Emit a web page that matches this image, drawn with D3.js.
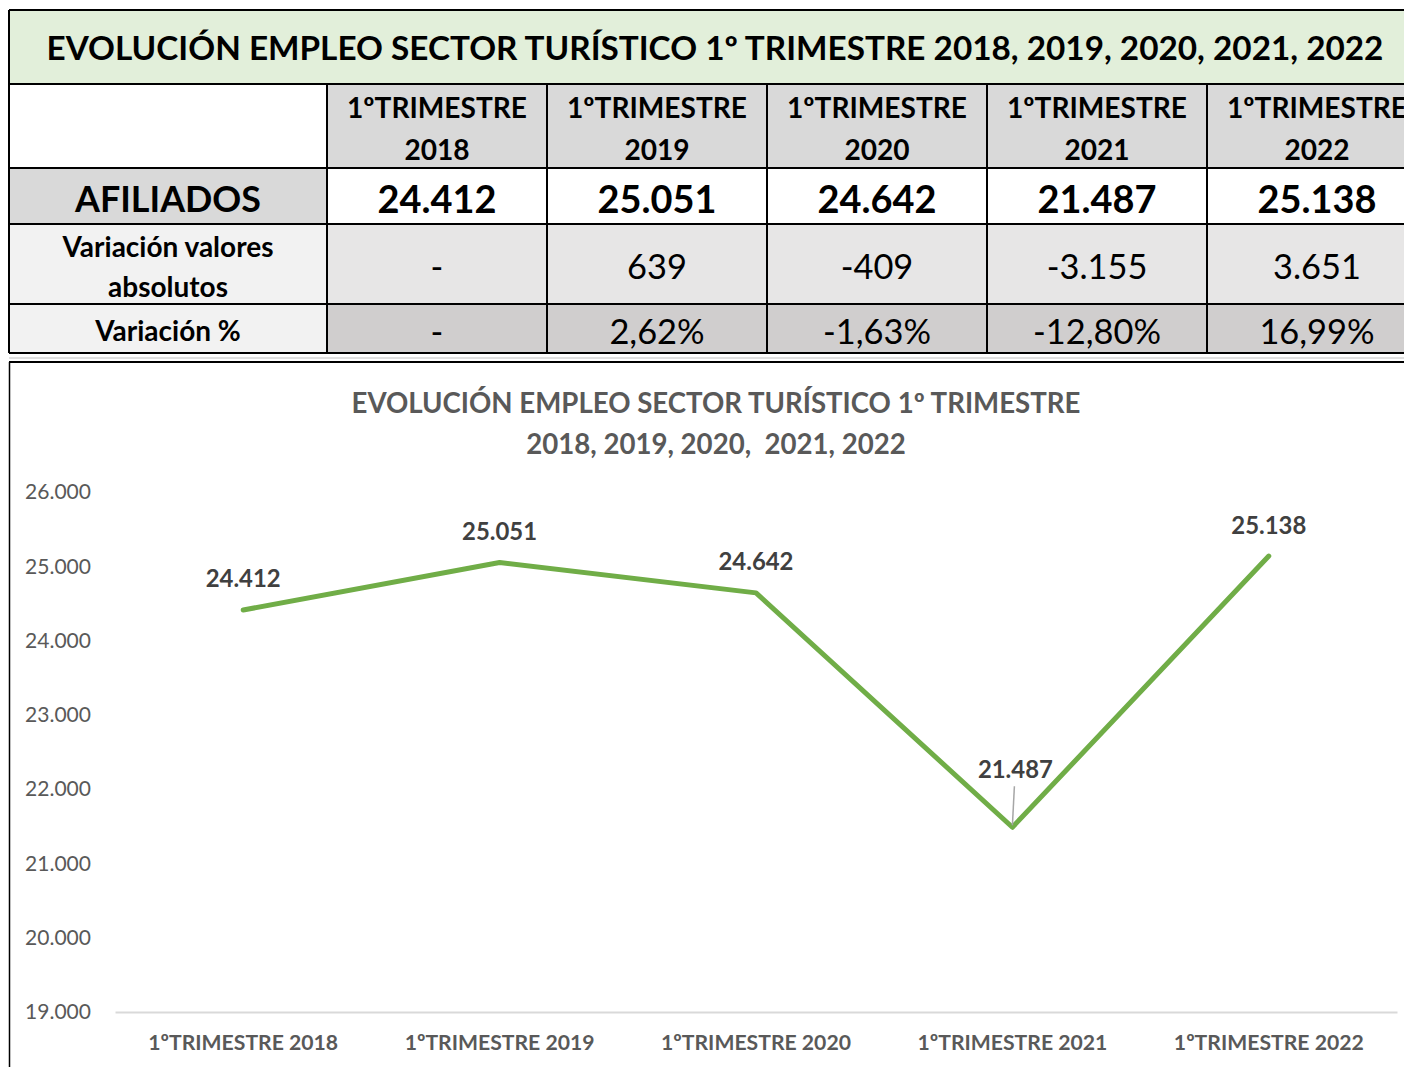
<!DOCTYPE html>
<html><head><meta charset="utf-8">
<script src="https://cdn.jsdelivr.net/npm/d3@7"></script>
<style>body{margin:0;background:#fff}svg{display:block}text{font-family:Lato,"Open Sans",sans-serif}</style>
</head><body>
<svg id="c" width="1404" height="1067"></svg>
<script>
const categories = ["1ºTRIMESTRE 2018","1ºTRIMESTRE 2019","1ºTRIMESTRE 2020","1ºTRIMESTRE 2021","1ºTRIMESTRE 2022"];
const headerTop = ["1ºTRIMESTRE","1ºTRIMESTRE","1ºTRIMESTRE","1ºTRIMESTRE","1ºTRIMESTRE"];
const headerYear = ["2018","2019","2020","2021","2022"];
const afiliados = [24412, 25051, 24642, 21487, 25138];
const variacionAbs = ["-","639","-409","-3.155","3.651"];
const variacionPct = ["-","2,62%","-1,63%","-12,80%","16,99%"];
const yTicks = [19000,20000,21000,22000,23000,24000,25000,26000];
const tableTitle = "EVOLUCIÓN EMPLEO SECTOR TURÍSTICO 1º TRIMESTRE 2018, 2019, 2020, 2021, 2022";
const chartTitle1 = "EVOLUCIÓN EMPLEO SECTOR TURÍSTICO 1º TRIMESTRE";
const chartTitle2 = "2018, 2019, 2020,  2021, 2022";

const fmt = v => d3.format(",")(v).replace(/,/g,".");
const svg = d3.select("#c");

const meas = svg.append("text").attr("x",-1000).attr("y",-1000).style("font-size","100px");
function fit(str, w, weight){ meas.style("font-weight",weight).text(str); return 100*w/meas.node().getComputedTextLength(); }

// ---------- TABLE ----------
const colX = d3.scaleBand().domain(d3.range(5)).range([327, 1427]);
const labelX0 = 9, labelX1 = 327;
const rows = {title:[10,84], head:[84,168], afil:[168,224], abs:[224,304], pct:[304,353]};

svg.append("rect").attr("x",9).attr("y",rows.title[0]).attr("width",1420).attr("height",rows.title[1]-rows.title[0]).attr("fill","#e2efda");
const fsTitle = fit(tableTitle, 1337, "bold");
svg.append("text").attr("x",715).attr("y",47).attr("text-anchor","middle").attr("dominant-baseline","central")
  .style("font-size",fsTitle+"px").style("font-weight","bold").attr("fill","#000").text(tableTitle);

function bg(row, labelFill, valFill){
  svg.append("rect").attr("x",labelX0).attr("y",rows[row][0]).attr("width",labelX1-labelX0).attr("height",rows[row][1]-rows[row][0]).attr("fill",labelFill);
  svg.selectAll(null).data(d3.range(5)).join("rect").attr("x",i=>colX(i)).attr("y",rows[row][0])
    .attr("width",colX.bandwidth()).attr("height",rows[row][1]-rows[row][0]).attr("fill",valFill);
}
bg("head","#ffffff","#d9d9d9");
bg("afil","#d9d9d9","#ffffff");
bg("abs","#f2f2f2","#e7e6e6");
bg("pct","#f2f2f2","#d0cece");

const fsHead = fit("1ºTRIMESTRE",180,"bold");
const fsAfil = fit("24.412",119,"bold");
const fsAfLab = fit("AFILIADOS",186,"bold");
const fsVarLab = fit("Variación valores",211,"bold");
const fsVal = fit("-12,80%",128,"normal");

function colText(arr, y, fs, weight){
  svg.selectAll(null).data(arr).join("text").attr("x",(d,i)=>colX(i)+colX.bandwidth()/2).attr("y",y)
    .attr("text-anchor","middle").attr("dominant-baseline","central").style("font-size",fs+"px").style("font-weight",weight)
    .attr("fill","#000").text(d=>d);
}
colText(headerTop,107,fsHead,"bold");
colText(headerYear,149,fsHead,"bold");
colText(afiliados.map(fmt),198,fsAfil,"bold");
colText(variacionAbs,265,fsVal,"normal");
colText(variacionPct,330,fsVal,"normal");

function lab(t,y,fs){ svg.append("text").attr("x",(labelX0+labelX1)/2).attr("y",y).attr("text-anchor","middle").attr("dominant-baseline","central")
  .style("font-size",fs+"px").style("font-weight","bold").attr("fill","#000").text(t); }
lab("AFILIADOS",198,fsAfLab);
lab("Variación valores",246,fsVarLab);
lab("absolutos",286,fsVarLab);
lab("Variación %",330,fsVarLab);

const gl = svg.append("g").attr("stroke","#000").attr("stroke-width",2);
[10,84,168,224,304,353].forEach(y=>gl.append("line").attr("x1",9).attr("x2",1404).attr("y1",y).attr("y2",y));
gl.append("line").attr("x1",9).attr("x2",9).attr("y1",10).attr("y2",353);
[327].concat(d3.range(1,5).map(i=>colX(i))).forEach(x=>gl.append("line").attr("x1",x).attr("x2",x).attr("y1",84).attr("y2",353));
svg.append("line").attr("x1",9).attr("x2",1404).attr("y1",358).attr("y2",358).attr("stroke","#bfbfbf").attr("stroke-width",1);

// ---------- CHART ----------
svg.append("line").attr("x1",9).attr("x2",1404).attr("y1",362).attr("y2",362).attr("stroke","#000").attr("stroke-width",2);
svg.append("line").attr("x1",9.5).attr("x2",9.5).attr("y1",362).attr("y2",1067).attr("stroke","#000").attr("stroke-width",1.5);

const fsCT = fit(chartTitle1,729,"bold");
svg.append("text").attr("x",716).attr("y",402).attr("text-anchor","middle").attr("dominant-baseline","central")
  .style("font-size",fsCT+"px").style("font-weight","bold").attr("fill","#595959").text(chartTitle1);
svg.append("text").attr("x",716).attr("y",443).attr("text-anchor","middle").attr("dominant-baseline","central")
  .style("font-size",fsCT+"px").style("font-weight","bold").attr("fill","#595959").style("white-space","pre").text(chartTitle2);

const x = d3.scaleBand().domain(categories).range([115,1397]);
const y = d3.scaleLinear().domain([19000,26000]).range([1012,492]);

const fsTick = fit("26.000",66,"normal");
const yAxis = svg.append("g").attr("transform","translate(91,0)")
  .call(d3.axisLeft(y).tickValues(yTicks).tickFormat(fmt).tickSize(0).tickPadding(0));
yAxis.select(".domain").remove();
yAxis.selectAll("text").style("font-size",fsTick+"px").style("font-family","Lato").attr("fill","#595959");

const fsX = fit("1ºTRIMESTRE 2018",190,"bold");
const xAxis = svg.append("g").attr("transform","translate(0,1012)")
  .call(d3.axisBottom(x).tickSize(0).tickPadding(23));
xAxis.select(".domain").attr("stroke","#d9d9d9").attr("stroke-width",2);
xAxis.selectAll("text").style("font-size",fsX+"px").style("font-weight","bold").style("font-family","Lato").attr("fill","#595959");

const pts = categories.map((c,i)=>({c, v:afiliados[i]}));
svg.append("path").datum(pts).attr("fill","none").attr("stroke","#70ad47").attr("stroke-width",5).attr("stroke-linejoin","round").attr("stroke-linecap","round")
  .attr("d", d3.line().x(d=>x(d.c)+x.bandwidth()/2).y(d=>y(d.v)));

const fsDL = fit("24.412",75,"bold");
svg.selectAll(".dl").data(pts).join("text").attr("class","dl")
  .attr("x",(d,i)=>x(d.c)+x.bandwidth()/2 + (i===3?3:0))
  .attr("y",(d,i)=> i===3 ? y(d.v)-59 : y(d.v)-32)
  .attr("text-anchor","middle").attr("dominant-baseline","central")
  .style("font-size",fsDL+"px").style("font-weight","bold").attr("fill","#404040").text(d=>fmt(d.v));
const p3 = pts[3];
svg.append("line").attr("x1",x(p3.c)+x.bandwidth()/2+2).attr("y1",y(p3.v)-41).attr("x2",x(p3.c)+x.bandwidth()/2).attr("y2",y(p3.v)-2)
  .attr("stroke","#a6a6a6").attr("stroke-width",1.5);
meas.remove();
</script>
</body></html>
